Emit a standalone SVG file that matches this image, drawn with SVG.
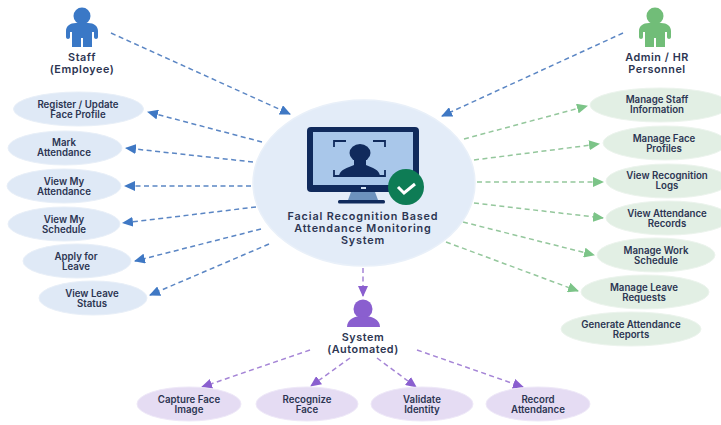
<svg xmlns="http://www.w3.org/2000/svg" width="721" height="425" viewBox="0 0 721 425">
<style>
text{font-family:Inter,"Liberation Sans",sans-serif;font-weight:600;fill:#2c3552;text-anchor:middle}
.u{font-size:9.7px}
.a{font-size:10.8px;letter-spacing:.55px}
.t{font-size:10.8px;letter-spacing:.85px}
.b{fill:#dfe9f6;stroke:#e8eff8;stroke-width:1}
.g{fill:#e2efe4;stroke:#ecf4ed;stroke-width:1}
.p{fill:#e5dcf3;stroke:#eee8f8;stroke-width:1}
.c{fill:none;stroke-width:1.5;stroke-dasharray:5 3.5}
.cb{stroke:#5b86c4;marker-end:url(#mb)}
.cg{stroke:#94c79c;marker-end:url(#mg)}
.cp{stroke:#a585d6;marker-end:url(#mp)}
</style>
<defs>
<marker id="mb" markerUnits="userSpaceOnUse" markerWidth="12" markerHeight="10" refX="10" refY="5" orient="auto"><path d="M0 0L11 5L0 10Z" fill="#3f78c4"/></marker>
<marker id="mg" markerUnits="userSpaceOnUse" markerWidth="12" markerHeight="10" refX="10" refY="5" orient="auto"><path d="M0 0L11 5L0 10Z" fill="#7cc488"/></marker>
<marker id="mp" markerUnits="userSpaceOnUse" markerWidth="12" markerHeight="10" refX="10" refY="5" orient="auto"><path d="M0 0L11 5L0 10Z" fill="#8a5fcf"/></marker>
<g id="std"><circle cx="0" cy="16" r="8.500"/><path d="M-6 23C-12 23-16 26-16 31V37C-16 39.500-12 39.500-12 37V32H-10V47H-1V38H1V47H10V32H12V37C12 39.500 16 39.500 16 37V31C16 26 12 23 6 23Z"/></g>
</defs>
<rect width="721" height="425" fill="#fff"/>
<g id="connectors">
<path class="c cb" d="M111 33L290 114"/>
<path class="c cb" d="M623 33L442 116"/>
<path class="c cb" d="M262 142L148 112"/>
<path class="c cb" d="M253 162L126 148"/>
<path class="c cb" d="M251 186L125 186"/>
<path class="c cb" d="M256 207L123 223"/>
<path class="c cb" d="M261 229L135 261"/>
<path class="c cb" d="M269 244L150 295"/>
<path class="c cg" d="M464 139L587 106"/>
<path class="c cg" d="M474 160L599 144"/>
<path class="c cg" d="M477 182L603 182"/>
<path class="c cg" d="M474 203L603 218"/>
<path class="c cg" d="M463 222L594 255"/>
<path class="c cg" d="M446 242L578 291"/>
<path class="c cp" d="M363 268L363 296"/>
<path class="c cp" d="M310 350L202 387"/>
<path class="c cp" d="M350 358L311 386"/>
<path class="c cp" d="M377 358L416 387"/>
<path class="c cp" d="M417 350L523 387"/>
</g>
<g id="staff"><use href="#std" x="82" fill="#3a78c6"/><text class="a" y="61"><tspan x="82">Staff</tspan><tspan x="82" dy="12">(Employee)</tspan></text></g>
<g id="admin"><use href="#std" x="655" fill="#71bd78"/><text class="a" y="61"><tspan x="657">Admin / HR</tspan><tspan x="657" dy="12">Personnel</tspan></text></g>
<g id="system-actor"><circle cx="363" cy="309" r="9.500" fill="#8a5fcf"/><path d="M347 327C347 319 355 316 363 316S380 319 380 327Z" fill="#8a5fcf"/><text class="a" y="341"><tspan x="363">System</tspan><tspan x="363" dy="12">(Automated)</tspan></text></g>
<g id="center"><ellipse cx="364" cy="183" rx="111" ry="83" fill="#e3ecf8" stroke="#e9f0f9" stroke-width="1.500"/>
<rect x="307" y="127" width="112" height="65" rx="4" fill="#102a5c"/>
<rect x="313" y="132" width="100" height="53" fill="#a9c7ea"/>
<rect x="361" y="187" width="5" height="2" fill="#cfe0f2"/>
<path d="M351 192H375L378 200H348Z" fill="#6d92bd"/>
<rect x="338" y="200" width="47" height="3.500" rx="1.500" fill="#102a5c"/>
<path d="M334 147V141H346M373 141H385V147M334 170V176H346M385 170V176H373" fill="none" stroke="#102a5c" stroke-width="1.800"/>
<ellipse cx="360" cy="153" rx="10.500" ry="9" fill="#102a5c"/><path d="M354 158H366V165C372 168 380 169 380 177H339C339 169 348 168 354 165Z" fill="#102a5c"/>
<circle cx="406" cy="187" r="18" fill="#0e7c55"/><path d="M398 187L404 193L415 184" fill="none" stroke="#fff" stroke-width="3"/>
<text class="t" y="220"><tspan x="363">Facial Recognition Based</tspan><tspan x="363" dy="12">Attendance Monitoring</tspan><tspan x="363" dy="12">System</tspan></text></g>
<g id="register"><ellipse class="b" cx="78.500" cy="109" rx="65" ry="17"/><text class="u" y="107.500"><tspan x="78">Register / Update</tspan><tspan x="78" dy="10">Face Profile</tspan></text></g>
<g id="mark"><ellipse class="b" cx="65" cy="148" rx="57" ry="17"/><text class="u" y="146"><tspan x="64">Mark</tspan><tspan x="64" dy="10">Attendance</tspan></text></g>
<g id="view-att"><ellipse class="b" cx="64" cy="186" rx="57" ry="17"/><text class="u" y="184.500"><tspan x="64">View My</tspan><tspan x="64" dy="10">Attendance</tspan></text></g>
<g id="view-sched"><ellipse class="b" cx="64" cy="224" rx="56" ry="17"/><text class="u" y="222.500"><tspan x="64">View My</tspan><tspan x="64" dy="10">Schedule</tspan></text></g>
<g id="apply"><ellipse class="b" cx="77" cy="261" rx="54" ry="17"/><text class="u" y="260"><tspan x="76">Apply for</tspan><tspan x="76" dy="10">Leave</tspan></text></g>
<g id="leave-status"><ellipse class="b" cx="93" cy="298" rx="54" ry="17"/><text class="u" y="296.500"><tspan x="92">View Leave</tspan><tspan x="92" dy="10">Status</tspan></text></g>
<g id="manage-staff"><ellipse class="g" cx="660" cy="105" rx="70" ry="17"/><text class="u" y="103"><tspan x="657">Manage Staff</tspan><tspan x="657" dy="10">Information</tspan></text></g>
<g id="manage-face"><ellipse class="g" cx="665" cy="143" rx="62" ry="17"/><text class="u" y="141.500"><tspan x="664">Manage Face</tspan><tspan x="664" dy="10">Profiles</tspan></text></g>
<g id="view-rec"><ellipse class="g" cx="668" cy="181" rx="62" ry="17"/><text class="u" y="179"><tspan x="667">View Recognition</tspan><tspan x="667" dy="10">Logs</tspan></text></g>
<g id="view-rec-att"><ellipse class="g" cx="668" cy="218" rx="62" ry="17"/><text class="u" y="216.500"><tspan x="667">View Attendance</tspan><tspan x="667" dy="10">Records</tspan></text></g>
<g id="manage-work"><ellipse class="g" cx="656" cy="255" rx="59" ry="17"/><text class="u" y="253.500"><tspan x="656">Manage Work</tspan><tspan x="656" dy="10">Schedule</tspan></text></g>
<g id="manage-leave"><ellipse class="g" cx="645" cy="292" rx="64" ry="17"/><text class="u" y="290.500"><tspan x="644">Manage Leave</tspan><tspan x="644" dy="10">Requests</tspan></text></g>
<g id="generate"><ellipse class="g" cx="631" cy="329" rx="70" ry="17"/><text class="u" y="327.500"><tspan x="631">Generate Attendance</tspan><tspan x="631" dy="10">Reports</tspan></text></g>
<g id="capture"><ellipse class="p" cx="189" cy="404" rx="52" ry="17"/><text class="u" y="402.500"><tspan x="189">Capture Face</tspan><tspan x="189" dy="10">Image</tspan></text></g>
<g id="recognize"><ellipse class="p" cx="307" cy="404" rx="51" ry="17"/><text class="u" y="402.500"><tspan x="307">Recognize</tspan><tspan x="307" dy="10">Face</tspan></text></g>
<g id="validate"><ellipse class="p" cx="422" cy="404" rx="51" ry="17"/><text class="u" y="402.500"><tspan x="422">Validate</tspan><tspan x="422" dy="10">Identity</tspan></text></g>
<g id="record"><ellipse class="p" cx="538" cy="404" rx="52" ry="17"/><text class="u" y="402.500"><tspan x="538">Record</tspan><tspan x="538" dy="10">Attendance</tspan></text></g>
</svg>
